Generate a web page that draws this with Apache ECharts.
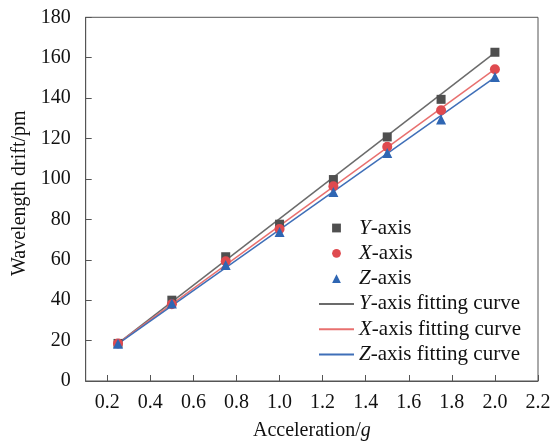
<!DOCTYPE html>
<html>
<head>
<meta charset="utf-8">
<script src="https://cdn.jsdelivr.net/npm/echarts@6/dist/echarts.min.js"></script>
<style>html,body{margin:0;padding:0;background:#fff}#c{width:552px;height:445px}</style>
</head>
<body>
<div id="c"></div>
<script>
const accel = [0.25, 0.5, 0.75, 1.0, 1.25, 1.5, 1.75, 2.0];
const yAxisData = [18.6, 40.0, 61.5, 77.6, 99.7, 120.8, 139.4, 162.7];
const xAxisData = [18.6, 38.0, 59.3, 75.2, 96.4, 115.9, 134.0, 154.3];
const zAxisData = [18.4, 38.4, 57.4, 73.8, 93.6, 112.9, 129.4, 150.5];
const fitX = [0.25, 2.0];
const yFit = [18.6, 162.5];
const xFit = [18.6, 154.3];
const zFit = [18.4, 150.3];
const xTicks = [0.2, 0.4, 0.6, 0.8, 1.0, 1.2, 1.4, 1.6, 1.8, 2.0, 2.2];

const pair = (xs, ys) => xs.map((x, i) => [x, ys[i]]);
const FONT = 'Liberation Serif';
const AX = '#555555';

const names = {
  'Y-axis': '{i|Y}{n|-axis}',
  'X-axis': '{i|X}{n|-axis}',
  'Z-axis': '{i|Z}{n|-axis}',
  'Y-axis fitting curve': '{i|Y}{n|-axis fitting curve}',
  'X-axis fitting curve': '{i|X}{n|-axis fitting curve}',
  'Z-axis fitting curve': '{i|Z}{n|-axis fitting curve}'
};

const chart = echarts.init(document.getElementById('c'), null, {renderer: 'canvas'});
chart.setOption({
  animation: false,
  backgroundColor: '#fff',
  grid: {left: 85.7, right: 14, top: 17.3, bottom: 64, show: true, borderColor: AX, borderWidth: 1,
    containLabel: false, outerBoundsMode: 'none'},
  xAxis: {
    type: 'value', min: 0.1, max: 2.2,
    name: 'Acceleration/{g|g}',
    nameLocation: 'middle', nameGap: 40,
    nameTextStyle: {fontFamily: FONT, fontSize: 20, color: '#111',
      rich: {g: {fontFamily: FONT, fontSize: 20, fontStyle: 'italic', color: '#111'}}},
    axisLine: {show: true, lineStyle: {color: AX, width: 1}},
    axisTick: {show: true, inside: true, length: 6, customValues: xTicks, lineStyle: {color: AX}},
    axisLabel: {customValues: xTicks, margin: 12, fontFamily: FONT, fontSize: 20, color: '#111',
      formatter: v => v.toFixed(1)},
    splitLine: {show: false}
  },
  yAxis: {
    type: 'value', min: 0, max: 180, interval: 20,
    name: 'Wavelength drift/pm',
    nameLocation: 'middle', nameGap: 50,
    nameTextStyle: {fontFamily: FONT, fontSize: 20, color: '#111', padding: [0, 0, 0, 12]},
    axisLine: {show: true, lineStyle: {color: AX, width: 1}},
    axisTick: {show: true, inside: true, length: 6, lineStyle: {color: AX}},
    axisLabel: {margin: 15, fontFamily: FONT, fontSize: 20, color: '#111'},
    splitLine: {show: false}
  },
  legend: {
    orient: 'vertical', left: 318, top: 217.5, padding: 0,
    itemWidth: 35, itemHeight: 11, itemGap: 4.3,
    data: ['Y-axis', 'X-axis', 'Z-axis',
      {name: 'Y-axis fitting curve', itemStyle: {opacity: 0}},
      {name: 'X-axis fitting curve', itemStyle: {opacity: 0}},
      {name: 'Z-axis fitting curve', itemStyle: {opacity: 0}}],
    formatter: n => names[n],
    textStyle: {fontFamily: FONT, fontSize: 21, color: '#111',
      rich: {
        i: {fontFamily: FONT, fontSize: 21, fontStyle: 'italic', color: '#111'},
        n: {fontFamily: FONT, fontSize: 21, color: '#111'}
      }}
  },
  series: [
    {name: 'Y-axis fitting curve', type: 'line', data: pair(fitX, yFit), symbol: 'none', z: 1,
      lineStyle: {color: '#6b6b6b', width: 1.5}, itemStyle: {color: '#6b6b6b'}},
    {name: 'X-axis fitting curve', type: 'line', data: pair(fitX, xFit), symbol: 'none', z: 1,
      lineStyle: {color: '#e8706f', width: 1.5}, itemStyle: {color: '#e8706f'}},
    {name: 'Z-axis fitting curve', type: 'line', data: pair(fitX, zFit), symbol: 'none', z: 1,
      lineStyle: {color: '#3f6fb8', width: 1.5}, itemStyle: {color: '#3f6fb8'}},
    {name: 'Y-axis', type: 'line', data: pair(accel, yAxisData), symbol: 'rect', symbolSize: 9, z: 3,
      lineStyle: {width: 0, opacity: 0}, itemStyle: {color: '#4f4f4f'}},
    {name: 'X-axis', type: 'line', data: pair(accel, xAxisData), symbol: 'circle', symbolSize: 10, z: 4,
      lineStyle: {width: 0, opacity: 0}, itemStyle: {color: '#df4a4f'}},
    {name: 'Z-axis', type: 'line', data: pair(accel, zAxisData), symbol: 'triangle', symbolSize: 10, z: 5,
      lineStyle: {width: 0, opacity: 0}, itemStyle: {color: '#2f66b3'}}
  ]
});
</script>
</body>
</html>
